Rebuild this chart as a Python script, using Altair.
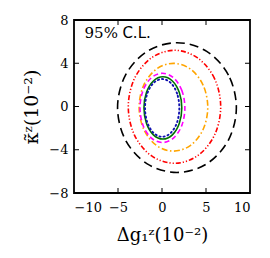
import altair as alt
import pandas as pd

# contour points (x: Δg1^Z, y: κ~^Z, both in 1e-2)
black_x = [8.45, 7.55, 5.08, 1.7, -1.68, -4.15, -5.05, -4.15, -1.68, 1.7, 5.08, 7.55]
black_y = [-0.1, 2.9, 5.1, 5.9, 5.1, 2.9, -0.1, -3.1, -5.3, -6.1, -5.3, -3.1]
red_x = [6.67, 5.97, 4.05, 1.42, -1.21, -3.13, -3.83, -3.13, -1.21, 1.42, 4.05, 5.97]
red_y = [-0.03, 2.58, 4.49, 5.2, 4.49, 2.58, -0.03, -2.64, -4.55, -5.25, -4.55, -2.64]
orange_x = [5.2, 4.68, 3.25, 1.3, -0.65, -2.08, -2.6, -2.08, -0.65, 1.3, 3.25, 4.68]
orange_y = [-0.07, 1.96, 3.45, 3.99, 3.45, 1.96, -0.07, -2.1, -3.59, -4.13, -3.59, -2.1]
magenta_x = [2.6, 2.26, 1.33, 0.05, -1.23, -2.16, -2.5, -2.16, -1.23, 0.05, 1.33, 2.26]
magenta_y = [-0.13, 1.47, 2.64, 3.07, 2.64, 1.47, -0.13, -1.73, -2.9, -3.33, -2.9, -1.73]
green_x = [2.25, 1.96, 1.18, 0.1, -0.98, -1.76, -2.05, -1.76, -0.98, 0.1, 1.18, 1.96]
green_y = [-0.13, 1.31, 2.36, 2.75, 2.36, 1.31, -0.13, -1.57, -2.62, -3.01, -2.62, -1.57]
blue_x = [1.97, 1.71, 1.0, 0.02, -0.96, -1.67, -1.93, -1.67, -0.96, 0.02, 1.0, 1.71]
blue_y = [-0.13, 1.2, 2.18, 2.54, 2.18, 1.2, -0.13, -1.47, -2.44, -2.8, -2.44, -1.47]

x_ticks = [-10, -5, 0, 5, 10]
y_ticks = [-8, -4, 0, 4, 8]

W, H = 176, 173
FONT = "DejaVu Serif"
MINUS = "datum.value < 0 ? '\u2212' + abs(datum.value) : datum.label"

xs = alt.Scale(domain=[-10, 10], nice=False, zero=False)
ys = alt.Scale(domain=[-8, 8], nice=False, zero=False)

XT = "Δg₁ᶻ(10⁻²)"
YT = "κ̃ᶻ(10⁻²)"

AX = alt.Axis(values=x_ticks, title=XT, ticks=False, domain=False, labelExpr=MINUS,
              grid=False, labelFont=FONT, labelFontSize=13, labelColor="black",
              titleFont=FONT, titleFontSize=18, titleFontWeight="normal",
              titleColor="black", labelPadding=8, titlePadding=12)
AY = alt.Axis(values=y_ticks, title=YT, ticks=False, domain=False, labelExpr=MINUS,
              grid=False, labelFont=FONT, labelFontSize=13, labelColor="black",
              titleFont=FONT, titleFontSize=19, titleFontWeight="normal",
              titleColor="black", labelPadding=6, titleX=-33, titleY=H / 2,
              titleAlign="center", titleBaseline="bottom")

def X(f):
    return alt.X(f, scale=xs, axis=AX, title=XT)

def Y(f):
    return alt.Y(f, scale=ys, axis=AY, title=YT)

curves = [
    ("black", black_x, black_y, "#000000", [9, 5]),
    ("red", red_x, red_y, "#ff0000", [5, 2, 1.2, 2, 1.2, 2]),
    ("orange", orange_x, orange_y, "#ffa500", [6, 2.5, 1.5, 2.5]),
    ("magenta", magenta_x, magenta_y, "#ff00ff", [5, 3]),
    ("green", green_x, green_y, "#007000", None),
    ("blue", blue_x, blue_y, "#1010b0", [1.2, 3]),
]

layers = []
for name, cx, cy, col, dash in curves:
    df = pd.DataFrame({"x": cx, "y": cy, "o": list(range(len(cx)))})
    props = dict(color=col, strokeWidth=1.6, interpolate="cardinal-closed", clip=True)
    if dash is not None:
        props["strokeDash"] = dash
    if name == "blue":
        props["strokeCap"] = "round"
        props["strokeWidth"] = 1.9
    layers.append(alt.Chart(df).mark_line(**props).encode(x=X("x:Q"), y=Y("y:Q"), order="o:Q"))

# inside ticks
tx = pd.DataFrame({"t": x_ticks[1:-1]})
ty = pd.DataFrame({"t": y_ticks[1:-1]})
tk = dict(color="black", strokeWidth=1)
layers.append(alt.Chart(tx).mark_rule(**tk).encode(x=X("t:Q"), y=alt.value(H), y2=alt.value(H - 5)))
layers.append(alt.Chart(tx).mark_rule(**tk).encode(x=X("t:Q"), y=alt.value(0), y2=alt.value(5)))
layers.append(alt.Chart(ty).mark_rule(**tk).encode(y=Y("t:Q"), x=alt.value(0), x2=alt.value(5)))
layers.append(alt.Chart(ty).mark_rule(**tk).encode(y=Y("t:Q"), x=alt.value(W), x2=alt.value(W - 5)))

# annotation
ann = pd.DataFrame({"x": [-8.8], "y": [6.8]})
layers.append(alt.Chart(ann).mark_text(text="95%", align="left", baseline="middle",
                                       font=FONT, fontSize=15, color="black")
              .encode(x=X("x:Q"), y=Y("y:Q")))
ann2 = pd.DataFrame({"x": [-4.5], "y": [6.8]})
layers.append(alt.Chart(ann2).mark_text(text="C.L.", align="left", baseline="middle",
                                        font="DejaVu Sans", fontSize=15, color="black")
              .encode(x=X("x:Q"), y=Y("y:Q")))

chart = alt.layer(*layers).properties(
    width=W, height=H,
    autosize=alt.AutoSizeParams(type="none"),
    padding={"left": 66, "top": 12, "right": 12, "bottom": 56},
).configure(background="white").configure_view(stroke="black", strokeWidth=1.8)

chart.save("out.html", embed_options={"renderer": "svg", "actions": False})
